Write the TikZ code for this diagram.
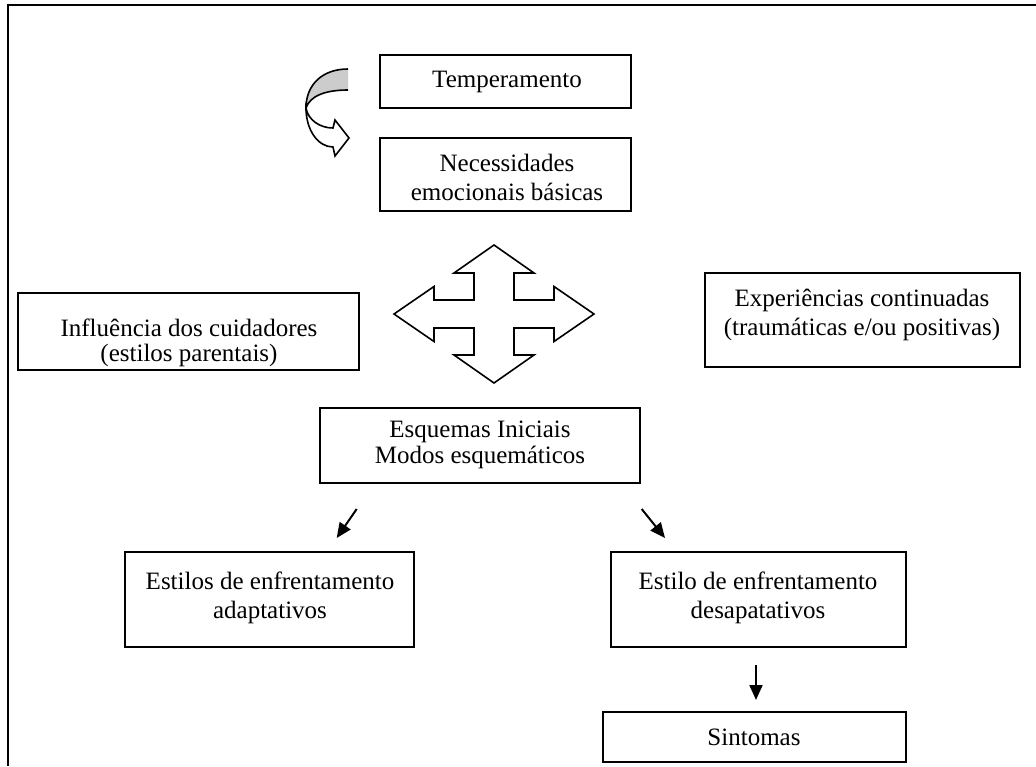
\documentclass[tikz,border=0pt]{standalone}
\usepackage{fontspec}
\setmainfont{Liberation Serif}
\usetikzlibrary{arrows.meta}
\begin{document}
\begin{tikzpicture}[x=1pt,y=-1pt,
  box/.style={draw, line width=1.6pt, rectangle, inner sep=0pt},
  txt/.style={font=\fontsize{25}{29}\selectfont, align=center, inner sep=0pt},
  tight/.style={font=\fontsize{25}{25.5}\selectfont},
  flow/.style={line width=2pt, -{Triangle[length=15pt,width=13pt]}},
  shapeline/.style={line width=1.6pt, line join=miter}]
\useasboundingbox (0,0) rectangle (1036,766);

% outer frame (top and left edges)
\coordinate (frameR) at (1036,5);
\coordinate (frameC) at (8,5);
\coordinate (frameB) at (8,766);
\draw[line width=2pt] (frameR) -- (frameC) -- (frameB);

% boxes
\node[box, minimum width=251pt, minimum height=53pt] (temp) at (505.5,81.5) {};
\node[box, minimum width=251pt, minimum height=73pt] (neces) at (505.5,174.5) {};
\node[box, minimum width=341pt, minimum height=77pt] (infl) at (188.5,331.5) {};
\node[box, minimum width=315pt, minimum height=94pt] (exper) at (862.5,320) {};
\node[box, minimum width=320pt, minimum height=75pt] (esq) at (480,445.5) {};
\node[box, minimum width=289pt, minimum height=95pt] (adapt) at (269.5,599.5) {};
\node[box, minimum width=295pt, minimum height=95pt] (desap) at (758.5,599.5) {};
\node[box, minimum width=303pt, minimum height=50pt] (sint) at (754.5,737) {};

% texts
\node[txt] (tempT) at (507,82) {Temperamento};
\node[txt] (necesT) at (507,177.5) {Necessidades\\emocionais básicas};
\node[txt, tight] (inflT) at (189,343) {Influência dos cuidadores\\(estilos parentais)};
\node[txt] (experT) at (862,315) {Experiências continuadas\\(traumáticas e/ou positivas)};
\node[txt, font=\fontsize{25}{26.5}\selectfont] (esqT) at (480,445) {Esquemas Iniciais\\Modos esquemáticos};
\node[txt] (adaptT) at (270,598) {Estilos de enfrentamento\\adaptativos};
\node[txt] (desapT) at (758,598) {Estilo de enfrentamento\\desapatativos};
\node[txt] (sintT) at (754,737) {Sintomas};

% curved arrow between temperament and needs
\fill[gray!40] (348,69) .. controls (322,69) and (306,85) .. (306,108)
  .. controls (310,96) and (325,90) .. (348,90) -- cycle;
\draw[shapeline] (348,69) .. controls (322,69) and (306,85) .. (306,108)
  .. controls (310,96) and (325,90) .. (348,90);
\draw[shapeline, fill=white] (306,108) .. controls (306,130) and (318,147) .. (333,147)
  -- (335,156) -- (349,138) -- (335,120) -- (333,128)
  .. controls (320,128) and (308,120) .. (306,108) -- cycle;

% four-way arrow
\begin{scope}[shift={(494,314)}]
\draw[shapeline] (0,-69) -- (40,-41) -- (20,-41) -- (20,-14) -- (60,-14) -- (60,-27.5)
  -- (100,0) -- (60,27.5) -- (60,14) -- (20,14) -- (20,41) -- (40,41) -- (0,69)
  -- (-40,41) -- (-20,41) -- (-20,14) -- (-60,14) -- (-60,27.5) -- (-100,0)
  -- (-60,-27.5) -- (-60,-14) -- (-20,-14) -- (-20,-41) -- (-40,-41) -- cycle;
\end{scope}

% small arrows
\coordinate (a1s) at (356.7,509);
\coordinate (a1e) at (336.7,538);
\coordinate (a2s) at (641.7,509);
\coordinate (a2e) at (665,538);
\coordinate (a3s) at (756,665);
\coordinate (a3e) at (756,700);
\draw[flow] (a1s) -- (a1e);
\draw[flow] (a2s) -- (a2e);
\draw[flow] (a3s) -- (a3e);
\end{tikzpicture}
\end{document}
